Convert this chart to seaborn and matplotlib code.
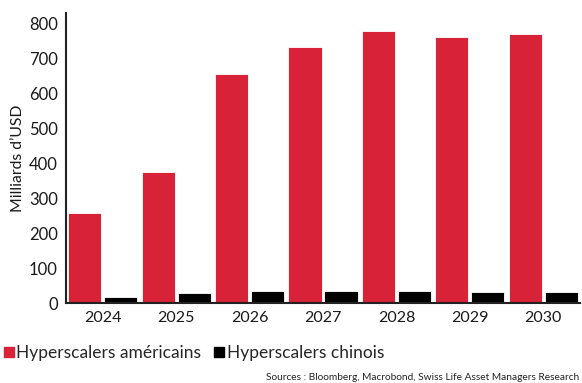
import matplotlib
matplotlib.use("Agg")
import matplotlib.pyplot as plt
import seaborn as sns
import pandas as pd
from matplotlib.lines import Line2D

years = ["2024", "2025", "2026", "2027", "2028", "2029", "2030"]
us_values = [258, 376, 657, 734, 780, 762, 770]
cn_values = [16, 28, 33, 34, 34, 31, 32]
series_names = ["Hyperscalers américains", "Hyperscalers chinois"]
y_ticks = [0, 100, 200, 300, 400, 500, 600, 700, 800]
colors = ["#D82238", "#000000"]

df = pd.DataFrame({
    "year": years * 2,
    "value": us_values + cn_values,
    "series": [series_names[0]] * len(years) + [series_names[1]] * len(years),
})

sns.set_theme(style="white")
plt.rcParams["font.family"] = ["Lato", "DejaVu Sans"]

fig = plt.figure(figsize=(5.82, 3.83), dpi=100)
ax = fig.add_axes([66 / 582, 80 / 383, 514 / 582, 290 / 383])

sns.barplot(data=df, x="year", y="value", hue="series", palette=colors,
            saturation=1, width=0.98, gap=0.08, ax=ax, legend=False,
            edgecolor="white", linewidth=0.6)

ax.set_xlim(-0.5, 6.5)
ax.set_ylim(0, 831)
ax.set_yticks(y_ticks)
ax.set_yticklabels([str(v) for v in y_ticks], fontsize=12, color="#1a1a1a")
ax.set_xlabel("")
ax.set_ylabel("Milliards d\u2019USD", fontsize=11.3, color="#1a1a1a", labelpad=3)

# x ticks: labels at centers, tick marks between categories
ax.set_xticks(range(len(years)))
ax.set_xticklabels(years, fontsize=11.5, color="#1a1a1a")
ax.tick_params(axis="x", which="major", length=0, pad=6)
ax.set_xticks([i + 0.5 for i in range(len(years) - 1)], minor=True)
ax.tick_params(axis="x", which="minor", length=5, width=1, color="#222222", direction="out")
ax.tick_params(axis="y", length=4, width=1, color="#222222", direction="out", pad=2)

for s in ["top", "right"]:
    ax.spines[s].set_visible(False)
for s in ["left", "bottom"]:
    ax.spines[s].set_color("#222222")
    ax.spines[s].set_linewidth(1.5)

handles = [Line2D([0], [0], marker="s", linestyle="none", markersize=7,
                  markerfacecolor=c, markeredgecolor=c) for c in colors]
fig.legend(handles, series_names, loc="center left", bbox_to_anchor=(0.0, 1 - 353 / 383),
           ncol=2, frameon=False, fontsize=12.5, handlelength=0.6, handletextpad=0.15,
           columnspacing=0.7, borderaxespad=0, borderpad=0.2)

fig.text(579 / 582, 1 - 378 / 383, "Sources : Bloomberg, Macrobond, Swiss Life Asset Managers Research",
         fontsize=7.3, color="#222222", ha="right", va="center")

fig.savefig("out.png", dpi=100)
